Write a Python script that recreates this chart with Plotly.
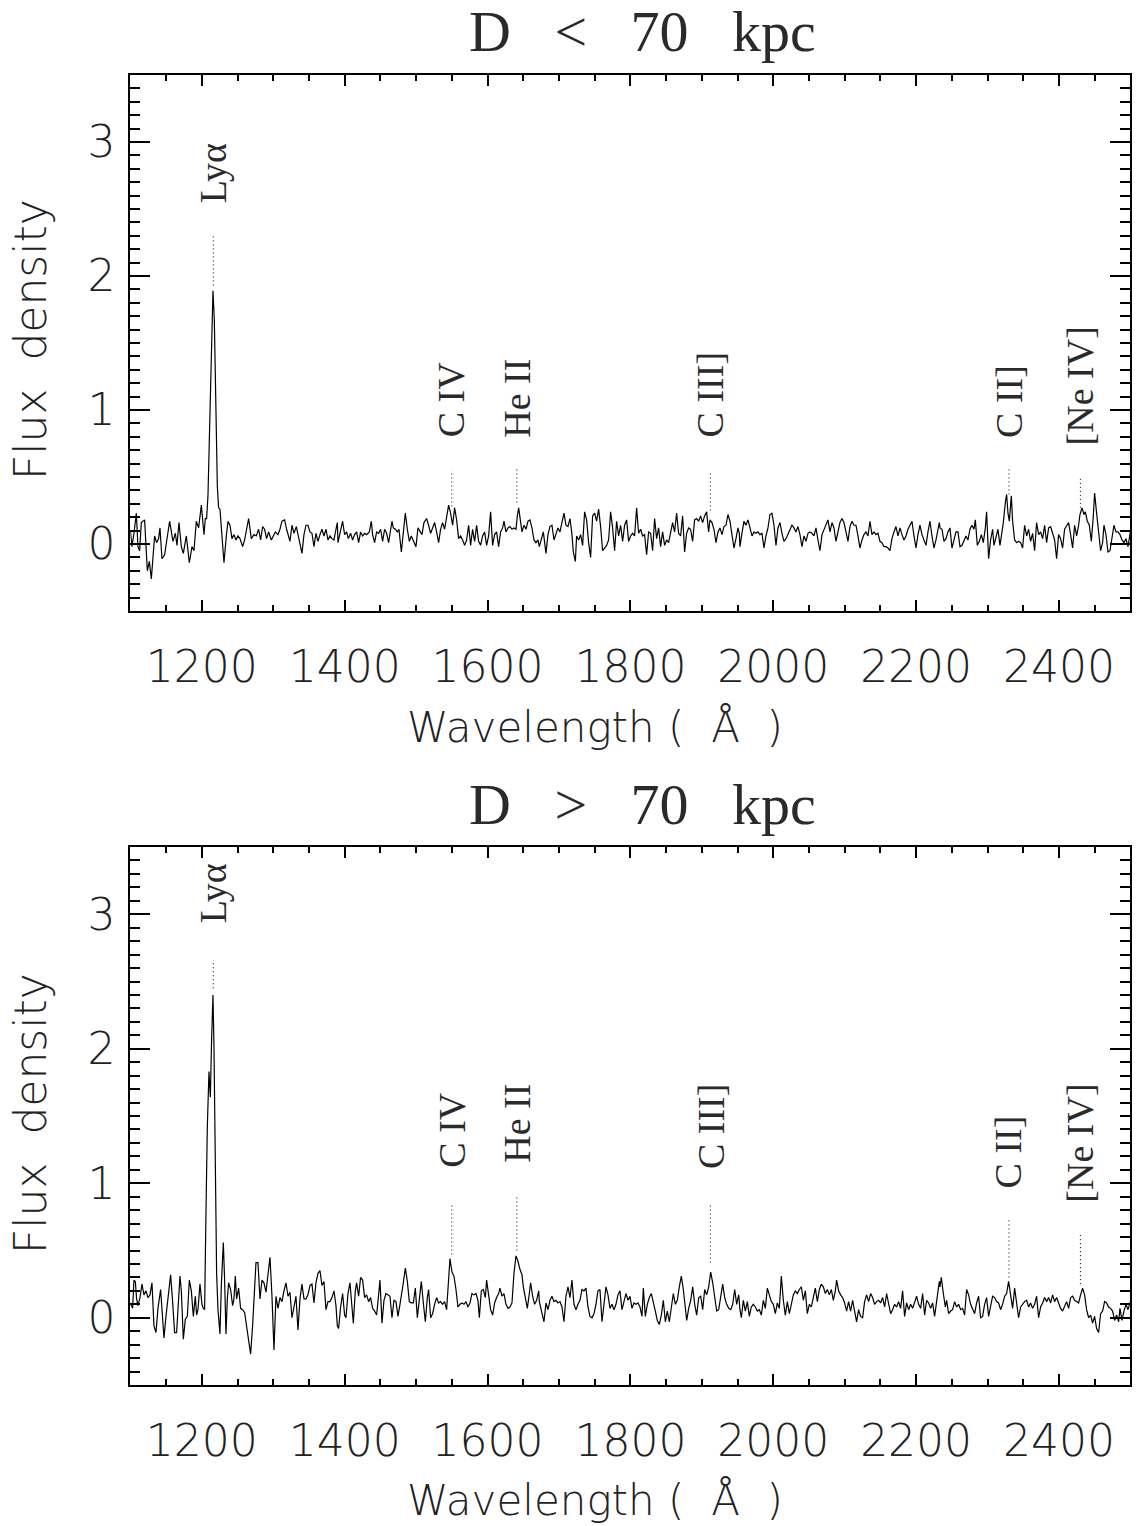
import plotly.graph_objects as go

# ---------------- data ----------------
wave_near = [
    1100.0, 1102.2, 1105.0, 1108.3, 1110.6, 1112.9, 1115.3, 1119.9, 1123.7, 1126.5,
    1129.3, 1133.9, 1136.7, 1139.5, 1141.4, 1144.2, 1147.9, 1151.7, 1154.9, 1159.6,
    1162.9, 1165.2, 1168.0, 1171.3, 1174.1, 1178.3, 1182.5, 1186.2, 1189.0, 1192.3,
    1195.5, 1199.3, 1203.0, 1204.9, 1206.7, 1208.6, 1211.0, 1213.3, 1215.6, 1217.5,
    1219.8, 1221.7, 1223.5, 1225.4, 1228.2, 1231.0, 1234.3, 1236.6, 1239.4, 1242.2,
    1245.0, 1247.8, 1250.6, 1253.4, 1257.1, 1259.9, 1262.7, 1265.5, 1269.3, 1273.0,
    1276.3, 1279.5, 1282.3, 1285.1, 1287.9, 1290.7, 1293.5, 1297.3, 1300.1, 1302.9,
    1306.6, 1309.4, 1312.2, 1315.9, 1318.7, 1321.5, 1323.4, 1326.2, 1329.0, 1332.3,
    1334.6, 1337.4, 1340.2, 1343.0, 1345.8, 1348.6, 1351.4, 1354.2, 1357.0, 1359.8,
    1362.6, 1365.4, 1368.2, 1371.0, 1373.8, 1376.6, 1379.4, 1382.2, 1385.0, 1387.8, 1389.7,
    1390.6, 1393.4, 1397.1, 1399.9, 1402.7, 1405.1, 1408.3, 1411.1, 1413.9, 1416.7,
    1419.5, 1422.3, 1425.1, 1427.9, 1430.7, 1434.5, 1437.3, 1439.1, 1441.9, 1444.7,
    1447.5, 1450.3, 1453.1, 1455.9, 1458.7, 1461.5, 1464.3, 1466.2, 1468.1, 1470.9,
    1473.7, 1476.0, 1479.3, 1482.1, 1484.9, 1487.7, 1490.5, 1493.3, 1496.1, 1499.8,
    1502.6, 1505.4, 1508.2, 1511.0, 1514.7, 1517.5, 1520.3, 1523.1, 1525.9, 1528.7,
    1531.5, 1534.3, 1537.1, 1539.9, 1542.7, 1545.5, 1548.3, 1551.1, 1553.9, 1556.7,
    1559.5, 1562.3, 1565.1, 1567.9, 1570.7, 1573.5, 1576.3, 1579.1, 1581.9, 1584.7,
    1587.5, 1590.3, 1593.1, 1595.9, 1598.7, 1601.5, 1604.3, 1607.1, 1609.9, 1612.7,
    1615.5, 1618.3, 1621.1, 1623.0, 1625.8, 1628.6, 1631.4, 1634.2, 1637.0, 1639.8,
    1641.7, 1643.6, 1646.4, 1648.2, 1651.0, 1653.8, 1656.6, 1659.4, 1662.2, 1665.0,
    1667.8, 1670.6, 1672.5,
    1675.3, 1678.1, 1681.8, 1684.6, 1687.4, 1690.2, 1693.0, 1695.8, 1698.6, 1701.4,
    1704.2, 1707.0, 1709.8, 1712.6, 1715.4, 1718.2, 1720.1, 1722.9, 1724.7, 1727.5,
    1730.3, 1733.1, 1735.9, 1738.7, 1741.5, 1744.3, 1747.1, 1749.9, 1752.7, 1755.5,
    1758.3, 1761.1, 1763.9, 1766.7, 1769.5, 1772.3, 1775.1, 1777.9, 1780.7, 1783.5,
    1786.3, 1789.1, 1791.9, 1794.7, 1797.5, 1800.3, 1803.1, 1805.9, 1808.7, 1811.5,
    1814.3, 1817.1, 1819.9, 1822.7, 1825.5, 1828.3, 1831.1, 1833.9, 1836.7, 1839.5,
    1842.3, 1845.1, 1847.9, 1850.7, 1853.5, 1856.3, 1859.1, 1861.9, 1864.7, 1867.5,
    1870.3, 1873.1, 1875.9, 1878.7, 1881.5, 1884.3, 1887.1, 1889.9, 1892.7, 1895.5,
    1898.3, 1901.1, 1903.9, 1906.7, 1909.5, 1911.4, 1914.2, 1917.0, 1919.8, 1922.6,
    1925.4, 1928.2, 1931.0, 1933.8, 1936.6, 1939.4, 1942.2, 1945.0, 1947.8, 1950.6, 1952.5,
    1953.4, 1956.2, 1959.0, 1961.8, 1964.6, 1967.4, 1970.2, 1973.0, 1975.8, 1978.6,
    1981.4, 1984.2, 1987.0, 1989.8, 1992.6, 1995.4, 1998.2, 2001.0, 2003.8, 2006.6,
    2009.4, 2012.2, 2015.0, 2017.8, 2020.6, 2023.4, 2026.2, 2029.0, 2031.8, 2034.6,
    2037.4, 2040.2, 2043.0, 2045.8, 2048.6, 2051.4, 2054.2, 2057.0, 2059.8, 2062.6,
    2065.4, 2068.2, 2071.0, 2073.8, 2076.6, 2079.4, 2082.2, 2085.0, 2087.8, 2090.6,
    2093.4, 2096.2, 2099.0, 2101.8, 2104.6, 2107.4, 2110.2, 2113.0, 2115.8, 2118.6,
    2121.4, 2124.2, 2127.0, 2129.8, 2132.6, 2135.4, 2138.2, 2141.0, 2143.8, 2146.6,
    2149.4, 2152.2, 2155.0, 2157.8, 2160.6, 2163.4, 2166.2, 2169.0, 2171.8, 2174.6,
    2177.4, 2180.2, 2183.0, 2185.8, 2188.6, 2191.4, 2194.2, 2197.0, 2199.8, 2202.6,
    2205.4, 2208.2, 2211.0, 2213.8, 2216.6, 2219.4, 2222.2, 2225.0, 2227.8, 2230.6, 2232.5,
    2233.4, 2236.2, 2239.0, 2241.8, 2244.6, 2247.4, 2250.2, 2253.0, 2255.8, 2258.6,
    2261.4, 2264.2, 2267.0, 2269.8, 2272.6, 2275.4, 2278.2, 2281.0, 2282.9, 2285.7,
    2288.5, 2291.3, 2294.1, 2296.9, 2298.7, 2301.5, 2304.3, 2307.1, 2309.0, 2311.8,
    2314.6, 2317.4, 2320.2, 2322.1, 2324.9, 2326.7, 2328.6, 2330.5, 2333.3, 2335.1,
    2337.9, 2340.7, 2343.5, 2346.3, 2349.1, 2351.9, 2354.7, 2357.5, 2360.3, 2363.1,
    2365.9, 2368.7, 2371.5, 2374.3, 2377.1, 2379.9, 2382.7, 2385.5, 2388.3, 2391.1,
    2393.9, 2396.7, 2399.5, 2402.3, 2405.1, 2407.9, 2410.7, 2413.5, 2416.3, 2419.1,
    2421.9, 2424.7, 2427.5, 2429.4, 2432.2, 2435.0, 2436.9, 2439.7, 2442.5, 2445.3,
    2448.1, 2449.9, 2452.7, 2455.5, 2458.3, 2461.1, 2463.0, 2465.8, 2468.6, 2471.4,
    2474.2, 2477.0, 2479.8, 2482.6, 2485.4, 2488.2, 2491.0, 2493.8, 2496.6, 2499.4, 2500.0,
]
flux_near = [
    0.10, -0.02, 0.08, 0.23, -0.02, -0.05, 0.16, 0.18, -0.20, -0.13,
    -0.26, 0.06, 0.01, 0.04, 0.12, -0.11, -0.08, 0.06, 0.17, 0.02,
    0.08, -0.01, 0.16, -0.02, -0.07, 0.06, -0.14, -0.02, -0.05, 0.17,
    0.12, 0.29, 0.07, 0.19, 0.19, 0.36, 0.93, 1.55, 1.89, 1.67,
    0.93, 0.43, 0.27, 0.26, 0.06, -0.14, 0.06, 0.17, 0.14, 0.04,
    0.07, 0.03, 0.06, 0.04, -0.02, 0.03, 0.11, 0.19, 0.04, 0.07,
    0.06, 0.11, 0.03, 0.13, 0.11, 0.04, 0.09, 0.03, 0.06, 0.09,
    0.07, 0.11, 0.17, 0.18, 0.11, 0.06, 0.02, 0.14, 0.08, 0.13,
    0.07, 0.01, -0.07, 0.07, 0.14, 0.14, 0.09, 0.08, -0.02, 0.08,
    0.02, 0.07, 0.11, 0.06, 0.11, 0.03, 0.06, 0.04, 0.03, 0.11, 0.16,
    0.01, 0.09, 0.17, 0.07, 0.09, 0.04, 0.08, 0.03, 0.07, 0.09,
    0.01, 0.09, 0.06, 0.08, 0.07, 0.09, 0.17, 0.07, 0.01, 0.09,
    0.08, 0.11, 0.02, 0.11, 0.08, 0.01, 0.12, 0.17, 0.12, 0.11,
    0.09, 0.11, -0.06, 0.11, 0.23, 0.11, 0.02, 0.06, 0.03, -0.02,
    0.12, 0.09, 0.07, 0.16, 0.19, 0.14, 0.08, 0.12, 0.16, 0.09,
    0.01, 0.11, 0.16, 0.11, 0.19, 0.29, 0.23, 0.14, 0.27, 0.18,
    0.04, 0.06, 0.03, -0.01, 0.03, 0.14, -0.01, 0.11, 0.02, 0.14,
    0.02, -0.01, 0.06, 0.09, -0.01, 0.06, 0.24, -0.01, 0.07, 0.09,
    -0.02, 0.09, 0.12, 0.17, 0.09, 0.12, 0.13, 0.11, 0.12, 0.11,
    0.21, 0.27, 0.16, 0.09, 0.14, 0.11, 0.17, 0.18, 0.12, 0.03,
    0.01, 0.03, -0.02,
    0.04, 0.09, -0.07, 0.07, 0.13, 0.14, 0.03, 0.08, 0.12, 0.09,
    0.16, 0.23, 0.14, 0.13, 0.19, 0.07, -0.06, -0.13, 0.06, 0.03,
    0.07, -0.01, 0.24, 0.18, 0.01, -0.10, 0.21, 0.23, 0.17, 0.26,
    0.13, -0.05, -0.03, -0.01, 0.03, 0.24, 0.12, -0.05, 0.17, 0.06,
    0.14, 0.02, 0.14, 0.18, 0.02, 0.06, 0.08, 0.06, 0.27, 0.08,
    0.11, 0.06, 0.07, -0.08, 0.09, 0.08, -0.05, 0.19, 0.04, 0.12,
    -0.02, 0.09, -0.01, 0.03, 0.01, 0.08, 0.16, 0.09, 0.23, 0.08,
    0.06, 0.21, -0.06, 0.08, 0.12, 0.11, 0.02, 0.18, 0.19, 0.17,
    0.21, 0.16, 0.21, 0.24, 0.09, 0.18, 0.16, 0.11, 0.01, 0.09,
    0.12, 0.07, 0.13, 0.14, 0.22, 0.17, 0.06, -0.03, 0.04, 0.12, 0.08,
    -0.02, 0.08, 0.17, 0.14, 0.18, 0.12, 0.06, 0.09, 0.08, 0.09,
    0.07, 0.08, -0.03, 0.06, 0.12, 0.22, 0.23, 0.14, -0.01, 0.12,
    0.16, 0.08, 0.02, 0.04, 0.07, 0.11, 0.14, 0.12, 0.09, 0.13,
    0.07, -0.02, 0.06, 0.02, 0.08, 0.09, 0.08, 0.06, 0.12, 0.03,
    -0.05, 0.07, 0.11, 0.14, 0.18, 0.09, 0.16, 0.12, 0.02, 0.09,
    0.16, 0.19, 0.16, 0.09, 0.02, 0.13, 0.17, 0.14, 0.14, 0.06,
    -0.03, 0.03, 0.07, 0.09, 0.06, 0.17, 0.07, 0.09, 0.07, 0.08,
    0.02, 0.01, -0.02, -0.02, -0.03, -0.05, 0.04, 0.09, 0.13, 0.06,
    0.12, 0.07, 0.03, 0.06, 0.11, 0.14, 0.17, 0.06, -0.03, 0.07,
    0.14, 0.07, 0.03, -0.01, 0.09, 0.17, 0.06, -0.03, 0.03, 0.11, 0.16,
    0.12, 0.11, 0.02, 0.04, 0.09, 0.12, -0.03, 0.04, 0.09, 0.09,
    -0.02, -0.01, 0.03, 0.06, 0.03, 0.11, 0.14, 0.11, 0.18, -0.01,
    0.02, 0.07, 0.01, 0.12, 0.24, -0.11, 0.03, 0.11, -0.01, 0.06,
    0.11, -0.01, 0.08, 0.16, 0.31, 0.37, 0.23, 0.17, 0.36, 0.17,
    0.03, 0.01, 0.02, 0.01, -0.03, 0.14, 0.06, 0.11, 0.02, 0.08,
    -0.05, 0.16, 0.07, 0.09, 0.04, 0.14, 0.01, 0.12, 0.13, 0.08,
    0.03, -0.11, 0.07, 0.04, -0.03, 0.11, 0.14, 0.16, 0.07, -0.03,
    0.14, 0.06, 0.14, 0.22, 0.27, 0.22, 0.24, 0.17, 0.14, 0.02,
    0.21, 0.38, 0.23, 0.06, -0.05, 0.01, 0.14, 0.07, -0.06, -0.05,
    0.06, 0.14, 0.09, 0.09, 0.07, 0.03, 0.01, 0.04, -0.02, 0.09, 0.09,
]

wave_far = [
    1100.0, 1101.3, 1103.1, 1105.0, 1106.9, 1108.7, 1110.6, 1113.4, 1116.2, 1119.0,
    1121.8, 1124.6, 1127.4, 1130.2, 1133.0, 1135.8, 1138.6, 1142.3, 1145.1, 1147.0,
    1149.8, 1152.6, 1156.3, 1159.1, 1161.9, 1164.7, 1166.6, 1169.4, 1171.3, 1174.1,
    1176.9, 1179.7, 1182.5, 1185.3, 1188.1, 1190.9, 1192.7, 1194.6, 1197.4, 1200.2,
    1202.1, 1203.9, 1205.8, 1207.7, 1210.0, 1211.9, 1213.7, 1215.6, 1217.0, 1218.9,
    1220.7, 1222.6, 1225.4, 1227.3, 1230.1, 1231.9, 1233.8, 1235.7, 1237.5, 1240.3,
    1243.1, 1245.0, 1246.9, 1248.7, 1251.5, 1254.3, 1257.1, 1259.9, 1262.7, 1265.5,
    1268.3, 1271.1, 1273.0, 1275.8, 1278.6, 1281.4, 1284.2, 1287.0, 1289.8, 1292.6,
    1295.4, 1298.2, 1301.0, 1303.8, 1306.6, 1309.4, 1312.2, 1315.0, 1317.8, 1320.6,
    1323.4, 1326.2, 1329.0, 1331.8, 1334.6, 1337.4, 1340.2, 1343.0, 1345.8, 1348.6,
    1351.4, 1354.2, 1357.0, 1359.8, 1362.6, 1365.4, 1368.2, 1371.0, 1373.8, 1376.6,
    1379.4, 1382.2, 1385.0, 1387.8, 1389.7,
    1391.5, 1394.3, 1397.1, 1399.9, 1401.8, 1404.6, 1407.4, 1410.2, 1412.1, 1414.9,
    1416.7, 1419.5, 1422.3, 1425.1, 1427.9, 1430.7, 1433.5, 1436.3, 1439.1, 1441.9,
    1444.7, 1447.5, 1449.4, 1452.2, 1455.0, 1457.8, 1460.6, 1463.4, 1466.2, 1469.0,
    1471.8, 1474.6, 1477.4, 1480.2, 1482.1, 1484.9, 1487.7, 1490.5, 1493.3, 1496.1,
    1498.9, 1501.7, 1504.5, 1507.3, 1510.1, 1512.9, 1515.7, 1517.5, 1520.3, 1523.1,
    1525.9, 1528.7, 1531.5, 1534.3, 1537.1, 1539.9, 1542.7, 1545.5, 1547.4, 1550.2,
    1553.0, 1555.8, 1558.6, 1561.4, 1564.2, 1567.0, 1569.8, 1572.6, 1575.4, 1578.2,
    1581.0, 1583.8, 1586.6, 1588.5, 1591.3, 1594.1, 1596.9, 1598.7, 1601.5, 1604.3,
    1607.1, 1609.9, 1612.7, 1615.5, 1617.4, 1620.2, 1623.0, 1625.8, 1628.6, 1631.4,
    1634.2, 1637.0, 1639.8, 1642.6, 1645.4, 1648.2, 1650.1, 1652.9, 1655.7, 1658.5,
    1660.3, 1663.1, 1665.9, 1668.7, 1671.6, 1672.5,
    1673.4, 1676.2, 1679.0, 1681.8, 1684.6, 1687.4, 1690.2, 1693.0, 1695.8, 1698.6,
    1701.4, 1704.2, 1707.0, 1709.8, 1712.6, 1715.4, 1718.2, 1721.0, 1723.8, 1726.6,
    1729.4, 1732.2, 1735.0, 1737.8, 1740.6, 1743.4, 1746.2, 1749.0, 1751.8, 1754.6,
    1757.4, 1760.2, 1763.0, 1765.8, 1768.6, 1771.4, 1774.2, 1777.0, 1779.8, 1782.6,
    1785.4, 1788.2, 1791.0, 1793.8, 1796.6, 1799.4, 1802.2, 1805.0, 1807.8, 1810.6,
    1813.4, 1816.2, 1818.1, 1820.9, 1823.7, 1826.5, 1829.3, 1832.1, 1834.9, 1837.7,
    1840.5, 1843.3, 1846.1, 1848.9, 1851.7, 1854.5, 1857.3, 1860.1, 1862.9, 1865.7,
    1868.5, 1871.3, 1874.1, 1876.9, 1878.8, 1881.6, 1884.4, 1887.2, 1890.0, 1892.8,
    1895.6, 1898.4, 1901.2, 1904.0, 1906.8, 1909.6, 1912.4, 1915.2, 1918.0, 1920.8,
    1923.6, 1926.4, 1929.2, 1932.0, 1934.8, 1937.6, 1940.4, 1943.2, 1946.0, 1948.8, 1951.6,
    1953.4, 1955.3, 1958.1, 1960.9, 1963.7, 1966.5, 1969.3, 1972.1, 1974.9, 1977.7,
    1980.5, 1983.3, 1986.1, 1988.9, 1991.7, 1994.5, 1997.3, 2000.1, 2002.9, 2005.7,
    2008.5, 2011.3, 2014.1, 2016.9, 2019.7, 2022.5, 2025.3, 2028.1, 2030.9, 2033.7,
    2036.5, 2039.3, 2042.1, 2044.9, 2047.7, 2050.5, 2053.3, 2056.1, 2058.9, 2061.7,
    2064.5, 2067.3, 2070.1, 2072.9, 2075.7, 2078.5, 2081.3, 2084.1, 2086.9, 2088.7,
    2091.5, 2094.3, 2097.1, 2099.9, 2102.7, 2105.5, 2108.3, 2111.1, 2113.9, 2116.7,
    2119.5, 2122.3, 2125.1, 2127.9, 2130.7, 2133.5, 2136.3, 2139.1, 2141.9, 2144.7,
    2147.5, 2150.3, 2153.1, 2155.9, 2158.7, 2161.5, 2164.3, 2167.1, 2169.9, 2172.7,
    2175.5, 2178.3, 2181.1, 2183.9, 2186.7, 2189.5, 2192.3, 2195.1, 2197.9, 2200.7,
    2203.5, 2206.3, 2209.1, 2211.9, 2214.7, 2217.5, 2220.3, 2223.1, 2225.9, 2228.7, 2232.5,
    2233.4, 2235.3, 2238.1, 2240.9, 2242.7, 2245.5, 2248.3, 2251.1, 2253.9, 2256.7,
    2259.5, 2262.3, 2265.1, 2267.9, 2270.7, 2273.5, 2276.3, 2279.1, 2281.9, 2284.7,
    2287.5, 2290.3, 2293.1, 2295.9, 2298.7, 2301.5, 2304.3, 2307.1, 2309.9, 2312.7,
    2315.5, 2318.3, 2321.1, 2323.9, 2326.7, 2329.5, 2332.3, 2335.1, 2337.9, 2340.7,
    2343.5, 2346.3, 2349.1, 2351.9, 2354.7, 2357.5, 2360.3, 2363.1, 2365.9, 2368.7,
    2371.5, 2374.3, 2377.1, 2379.9, 2382.7, 2385.5, 2388.3, 2391.1, 2393.9, 2396.7,
    2399.5, 2402.3, 2405.1, 2407.9, 2410.7, 2413.5, 2416.3, 2419.1, 2421.9, 2424.7,
    2427.5, 2430.3, 2433.1, 2435.9, 2438.7, 2441.5, 2444.3, 2447.1, 2449.9, 2452.7,
    2455.5, 2458.3, 2461.1, 2463.9, 2466.7, 2469.5, 2472.3, 2475.1, 2477.9, 2480.7,
    2483.5, 2485.4, 2488.2, 2491.0, 2493.8, 2496.6, 2499.4, 2500.0,
]
flux_far = [
    0.11, 0.09, 0.07, 0.28, 0.27, 0.14, 0.09, 0.15, 0.25, 0.17,
    0.20, 0.15, 0.17, 0.26, -0.06, -0.11, 0.07, 0.21, -0.06, -0.15,
    0.01, 0.16, 0.32, 0.12, -0.11, -0.11, 0.09, 0.31, 0.20, -0.16,
    -0.01, 0.01, 0.28, 0.20, 0.01, 0.16, 0.02, 0.06, 0.25, 0.10,
    0.07, 0.06, 0.78, 1.42, 1.83, 1.64, 2.07, 2.40, 2.02, 1.15,
    0.33, 0.06, -0.12, 0.24, 0.56, 0.28, -0.12, 0.14, 0.26, 0.21,
    0.09, 0.14, 0.31, 0.14, 0.22, 0.07, 0.06, 0.04, -0.06, -0.16,
    -0.27, -0.06, 0.16, 0.41, 0.41, 0.14, 0.28, 0.26, 0.19, 0.33,
    0.45, 0.16, -0.24, 0.16, 0.07, 0.15, 0.12, 0.20, 0.26, 0.16,
    0.19, 0.00, 0.09, 0.16, -0.09, 0.14, 0.25, 0.14, 0.14, 0.17,
    0.24, 0.25, 0.11, 0.26, 0.33, 0.35, 0.24, 0.27, 0.06, 0.12,
    0.12, 0.15, 0.20, 0.09, -0.06,
    -0.08, 0.08, 0.18, 0.02, 0.00, 0.18, 0.26, 0.08, -0.04, 0.20,
    0.26, 0.16, 0.30, 0.28, 0.15, 0.17, 0.12, 0.15, 0.07, 0.05,
    0.02, 0.17, 0.28, -0.04, 0.13, 0.18, 0.17, 0.16, 0.00, 0.13,
    0.12, 0.01, 0.10, 0.22, 0.26, 0.37, 0.27, 0.12, 0.11, 0.11,
    0.22, 0.00, 0.13, 0.27, 0.11, -0.03, 0.15, 0.21, 0.00, 0.03,
    0.10, 0.15, 0.11, 0.12, 0.10, 0.12, 0.06, 0.33, 0.44, 0.34,
    0.31, 0.21, 0.08, 0.10, 0.11, 0.10, 0.12, 0.08, 0.11, 0.18,
    0.17, 0.18, 0.13, 0.00, 0.20, 0.21, 0.15, 0.28, 0.18, 0.06,
    0.02, 0.11, 0.15, 0.18, 0.22, 0.16, 0.18, 0.10, 0.07, 0.08,
    0.11, 0.33, 0.46, 0.42, 0.36, 0.32, 0.23, 0.15, 0.07, 0.18,
    0.26, 0.16, 0.10, 0.13, 0.20, 0.12,
    0.10, 0.05, -0.03, 0.11, 0.06, 0.13, 0.16, 0.12, 0.13, 0.11,
    0.12, 0.08, -0.03, 0.16, 0.23, 0.15, 0.28, 0.10, 0.06, 0.10,
    0.13, 0.21, 0.20, 0.22, 0.08, 0.01, 0.00, 0.03, 0.10, 0.20,
    0.21, -0.03, 0.12, 0.23, 0.17, 0.07, 0.10, 0.06, 0.10, 0.17,
    0.20, 0.06, 0.12, 0.18, 0.13, 0.16, 0.07, 0.11, 0.10, 0.11,
    0.08, 0.01, 0.22, 0.01, 0.10, 0.15, 0.18, 0.10, 0.05, -0.02,
    -0.05, 0.02, 0.13, -0.03, 0.05, -0.03, 0.08, 0.18, 0.10, 0.13,
    0.23, 0.31, 0.21, 0.08, -0.02, 0.07, 0.13, 0.23, 0.10, 0.02,
    0.15, 0.16, 0.06, 0.21, 0.17, 0.23, 0.34, 0.26, 0.15, 0.05,
    0.06, 0.16, 0.25, 0.15, 0.10, 0.07, 0.06, 0.10, 0.21, 0.10, 0.17,
    0.06, 0.00, 0.13, 0.05, 0.12, 0.01, 0.08, 0.10, 0.08, 0.05,
    0.06, 0.02, 0.13, 0.07, 0.22, 0.17, 0.12, 0.10, 0.03, 0.11,
    0.07, 0.31, 0.13, 0.02, 0.12, 0.03, 0.11, 0.17, 0.20, 0.18,
    0.21, 0.23, 0.13, 0.20, 0.03, 0.10, 0.08, 0.15, 0.22, 0.12,
    0.21, 0.25, 0.23, 0.18, 0.21, 0.17, 0.21, 0.13, 0.20, 0.28,
    0.20, 0.17, 0.15, 0.11, 0.05, 0.12, 0.05, 0.13, 0.05, -0.03,
    0.06, 0.01, 0.00, 0.12, 0.17, 0.12, 0.18, 0.15, 0.10, 0.12,
    0.13, 0.11, 0.15, 0.08, 0.18, 0.10, 0.03, 0.06, 0.10, 0.08,
    0.12, 0.07, 0.20, 0.01, 0.11, 0.06, 0.10, 0.07, 0.12, 0.16,
    0.10, 0.07, 0.18, 0.02, 0.13, 0.11, 0.07, 0.11, 0.01, 0.13, 0.27,
    0.23, 0.30, 0.18, 0.08, 0.13, 0.03, 0.05, 0.06, 0.12, 0.08,
    0.10, 0.06, 0.07, 0.02, 0.21, 0.17, 0.10, 0.06, 0.03, 0.11,
    0.16, 0.00, 0.01, 0.10, 0.15, 0.01, 0.08, 0.16, 0.15, 0.12,
    0.11, 0.06, 0.10, 0.16, 0.18, 0.27, 0.17, 0.07, 0.22, 0.12,
    0.00, 0.08, 0.10, 0.12, 0.13, 0.08, 0.11, 0.07, 0.10, 0.16,
    0.00, 0.08, 0.11, 0.15, 0.12, 0.15, 0.11, 0.17, 0.12, 0.15,
    0.11, 0.07, 0.05, 0.08, 0.12, 0.07, 0.15, 0.16, 0.13, 0.12,
    0.11, 0.17, 0.22, 0.17, 0.06, 0.00, 0.02, -0.04, 0.01, -0.08,
    -0.11, 0.03, 0.05, 0.12, 0.11, 0.08, 0.07, 0.05, -0.02, 0.02,
    -0.03, 0.07, -0.02, 0.05, 0.10, 0.06, 0.12, 0.12,
]

assert len(wave_near) == len(flux_near), (len(wave_near), len(flux_near))
assert len(wave_far) == len(flux_far), (len(wave_far), len(flux_far))

panel_titles = ["D < 70 kpc", "D > 70 kpc"]
line_labels = ["Ly\u03b1", "C IV", "He II", "C III]", "C II]", "[Ne IV]"]
line_waves = [1216, 1550, 1641, 1912, 2330, 2430]

near_dot_top = [2.31, 0.55, 0.57, 0.54, 0.58, 0.50]
near_dot_bottom = [1.93, 0.28, 0.31, 0.25, 0.37, 0.27]
near_label_y = [2.53, 0.78, 0.78, 0.78, 0.78, 0.72]

far_dot_top = [2.66, 0.84, 0.91, 0.84, 0.73, 0.62]
far_dot_bottom = [2.45, 0.47, 0.50, 0.41, 0.30, 0.25]
far_label_y = [2.92, 1.10, 1.14, 1.09, 0.95, 0.84]

x_ticks = [1200, 1400, 1600, 1800, 2000, 2200, 2400]
y_ticks = [0, 1, 2, 3]

# ---------------- figure ----------------
W, H = 1136, 1526
SANS = "DejaVu Sans"
SERIF = "Liberation Serif"
NB = "\u00a0"

fig = go.Figure()

panels = [
    ("x", "y", wave_near, flux_near, near_dot_top, near_dot_bottom, near_label_y),
    ("x2", "y2", wave_far, flux_far, far_dot_top, far_dot_bottom, far_label_y),
]

annotations = []
for xa, ya, wv, fx, dtop, dbot, laby in panels:
    fig.add_trace(go.Scatter(x=wv, y=fx, mode="lines", xaxis=xa, yaxis=ya,
                             line=dict(color="black", width=1.2), showlegend=False,
                             hoverinfo="skip"))
    for lw, t, b, ly, lab in zip(line_waves, dtop, dbot, laby, line_labels):
        fig.add_trace(go.Scatter(x=[lw, lw], y=[b, t], mode="lines", xaxis=xa, yaxis=ya,
                                 line=dict(color="black", width=1, dash="1px,3px"),
                                 showlegend=False, hoverinfo="skip"))
        annotations.append(dict(x=lw, y=ly, xref=xa, yref=ya, text=lab, showarrow=False,
                                textangle=-90, xanchor="center", yanchor="bottom",
                                font=dict(family=SERIF, size=38, color="#2a2a2a")))

# panel titles and axis titles
title_y = [1 - 31 / H, 1 - 805 / H]
xlab_y = [1 - 727 / H, 1 - 1500 / H]
ylab_y = [1 - 340 / H, 1 - 1114 / H]
for i in range(2):
    annotations.append(dict(x=642 / W, y=title_y[i], xref="paper", yref="paper",
                            text=panel_titles[i].replace(" ", NB * 3),
                            showarrow=False, xanchor="center", yanchor="middle",
                            font=dict(family=SERIF, size=58, color="#2a2a2a")))
    annotations.append(dict(x=595 / W, y=xlab_y[i], xref="paper", yref="paper",
                            text="Wavelength" + NB + "(" + NB * 2 + "\u00c5" + NB * 2 + ")",
                            showarrow=False, xanchor="center", yanchor="middle",
                            font=dict(family=SANS, size=42, color="#222222", weight=200)))
    annotations.append(dict(x=30 / W, y=ylab_y[i], xref="paper", yref="paper",
                            text="Flux" + NB * 2 + "density", showarrow=False, textangle=-90,
                            xanchor="center", yanchor="middle",
                            font=dict(family=SANS, size=44, color="#222222", weight=200)))

xdom = [130.4 / W, 1130.4 / W]
ydoms = [[1 - 611 / H, 1 - 75 / H], [1 - 1385 / H, 1 - 847 / H]]
tickfont = dict(family=SANS, size=44, color="#222222", weight=200)

def xaxis_cfg(anchor):
    return dict(domain=xdom, range=[1100, 2500], anchor=anchor,
                tickvals=x_ticks, ticks="inside", ticklen=11, tickwidth=1.5,
                tickcolor="black", mirror="allticks", showline=True, linewidth=2,
                linecolor="black", showgrid=False, zeroline=False,
                ticklabelstandoff=16, tickfont=tickfont,
                minor=dict(ticks="inside", ticklen=6, tickwidth=1.5, dtick=50,
                           tick0=1100, tickcolor="black", showgrid=False))

def yaxis_cfg(anchor, dom):
    return dict(domain=dom, range=[-0.5, 3.5], anchor=anchor,
                tickvals=y_ticks, ticks="inside", ticklen=20, tickwidth=1.5,
                tickcolor="black", mirror="allticks", showline=True, linewidth=2,
                linecolor="black", showgrid=False, zeroline=False,
                ticklabelstandoff=4, tickfont=tickfont,
                minor=dict(ticks="inside", ticklen=10, tickwidth=1.5, dtick=0.1,
                           tick0=0, tickcolor="black", showgrid=False))

fig.update_layout(
    width=W, height=H, margin=dict(l=0, r=0, t=0, b=0),
    paper_bgcolor="white", plot_bgcolor="white",
    xaxis=xaxis_cfg("y"), yaxis=yaxis_cfg("x", ydoms[0]),
    xaxis2=xaxis_cfg("y2"), yaxis2=yaxis_cfg("x2", ydoms[1]),
    annotations=annotations, showlegend=False,
)

fig.write_html("out.html")
